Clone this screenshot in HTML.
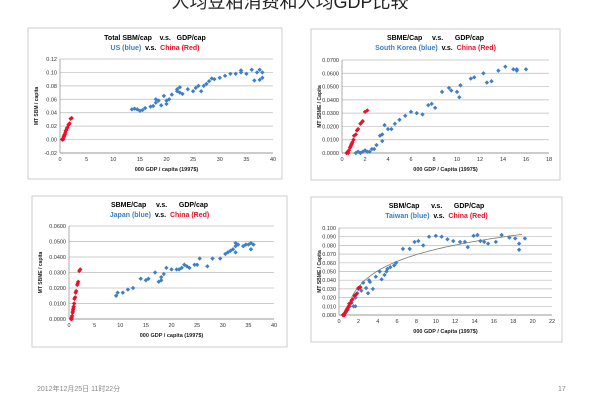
<!DOCTYPE html>
<html><head><meta charset="utf-8"><style>
html,body{margin:0;padding:0;background:#fff;}
body{width:600px;height:400px;overflow:hidden;position:relative;font-family:"Liberation Sans","Noto Sans CJK SC",sans-serif;}
</style></head><body>
<svg id="s" width="600" height="400" xmlns="http://www.w3.org/2000/svg" font-family="Liberation Sans, Noto Sans CJK SC, sans-serif">
<text x="290" y="8" font-size="18" text-anchor="middle" fill="#222">人均豆粕消费和人均GDP比较</text>
<text x="37" y="391" font-size="7" fill="#888">2012年12月25日 11时22分</text>
<text x="558" y="391" font-size="7" fill="#888">17</text>
</svg>
<script>
const NS="http://www.w3.org/2000/svg",S=document.getElementById('s');
function el(t,a,p){const e=document.createElementNS(NS,t);for(const k in a)e.setAttribute(k,a[k]);(p||S).appendChild(e);return e;}
function txt(x,y,s,sz,fill,anch,w,rot){const e=el('text',{x:x,y:y,'font-size':sz,fill:fill||'#000','text-anchor':anch||'middle','font-weight':w||'normal'});e.style.whiteSpace='pre';if(rot)e.setAttribute('transform','rotate(-90 '+x+' '+y+')');e.textContent=s;return e;}
const china=[[0.4,0],[0.5,0.001],[0.55,0],[0.6,0.002],[0.7,0.004],[0.75,0.005],[0.8,0.006],[0.85,0.007],[0.9,0.008],[1,0.01],[1.05,0.013],[1.2,0.014],[1.3,0.017],[1.4,0.018],[1.6,0.022],[1.7,0.023],[1.8,0.024],[2,0.031],[2.2,0.032]];
function chart(c){
 el('rect',{x:c.bx,y:c.by,width:c.bw,height:c.bh,fill:'#fff',stroke:'#ccc','stroke-width':1});
 const X=v=>c.x0+(v-c.xmin)/(c.xmax-c.xmin)*(c.x1-c.x0), Y=v=>c.y0-(v-c.ymin)/(c.ymax-c.ymin)*(c.y0-c.y1);
 for(let v=c.ymin;v<=c.ymax+1e-9;v+=c.ystep){const y=Y(v);el('line',{x1:c.x0,x2:c.x1,y1:y,y2:y,stroke:'#bbb','stroke-width':0.7});txt(c.x0-3,y+2,(Math.abs(v)<1e-9?0:v).toFixed(c.yd),5.5,'#333','end');}
 el('line',{x1:c.x0,x2:c.x0,y1:c.y1,y2:c.y0,stroke:'#888','stroke-width':0.7});
 const ya=Y(c.yaxis||c.ymin);el('line',{x1:c.x0,x2:c.x1,y1:ya,y2:ya,stroke:'#888','stroke-width':0.7});
 for(let v=c.xmin;v<=c.xmax+1e-9;v+=c.xstep){txt(X(v),c.y0+8,String(v),5.5,'#333');}
 txt((c.bx+c.bx+c.bw)/2,c.t1,c.title,7,'#000','middle','bold');
 const t=txt((c.bx+c.bx+c.bw)/2,c.t2,'',7,'#000','middle','bold');
 const a=el('tspan',{fill:'#3a7fc4'},t);a.textContent=c.who+' (blue) ';
 const b=el('tspan',{fill:'#000'},t);b.textContent=' v.s. ';
 const d=el('tspan',{fill:'#e8102a'},t);d.textContent=' China (Red)';
 txt((c.x0+c.x1)/2,c.xl||c.y0+18,c.xlabel,5.5,'#222','middle','bold');
 txt(c.bx+10,(c.y0+c.y1)/2,c.ylabel,5,'#222','middle','bold',true);
 if(c.trend){let p='';for(let v=1.3;v<=19;v+=0.2){p+=(p?'L':'M')+X(v).toFixed(1)+','+Y(0.0133+0.027*Math.log(v)).toFixed(1);}el('path',{d:p,fill:'none',stroke:'#777','stroke-width':0.8});}
 const dia=(px,py,col)=>el('path',{d:`M${px},${py-2.2}L${px+2.2},${py}L${px},${py+2.2}L${px-2.2},${py}Z`,fill:col});
 c.blue.forEach(p=>dia(X(p[0]),Y(p[1]),'#3f7fc6'));
 china.forEach(p=>dia(X(p[0]),Y(p[1]*(c.cs||1)),'#e8102a'));
}
chart({bx:28,by:28,bw:254,bh:151,x0:60,x1:273,y0:153,y1:59,xmin:0,xmax:40,xstep:5,ymin:-0.02,ymax:0.12,ystep:0.02,yd:2,yaxis:0,t1:40,t2:50,title:'Total SBM/cap    v.s.   GDP/cap',who:'US',xlabel:'000 GDP / capita (1997$)',ylabel:'MT SBM / capita',
blue:[[13.5,.045],[14,.046],[14.5,.045],[15,.043],[15.5,.044],[16,.047],[17,.049],[17.5,.05],[18,.055],[18,.06],[18.5,.058],[19,.051],[19.5,.065],[20,.053],[20,.058],[20.5,.06],[21,.067],[22,.072],[22,.075],[22.5,.07],[22.5,.078],[23,.068],[24,.075],[25,.072],[25.5,.077],[26,.08],[26.5,.072],[27,.08],[27.5,.083],[28,.087],[28.5,.091],[29,.09],[30,.092],[31,.095],[32,.098],[33,.098],[34,.103],[34,.1],[35,.098],[36,.104],[36.5,.088],[37,.1],[37.5,.104],[37.5,.089],[38,.092],[38,.1]]});
chart({bx:311,by:29,bw:249,bh:151,x0:342,x1:549,y0:153,y1:60,xmin:0,xmax:18,xstep:2,ymin:0,ymax:0.07,ystep:0.01,yd:4,t1:40,t2:50,title:'SBME/Cap     v.s.      GDP/cap',who:'South Korea',xlabel:'000 GDP / Capita (1997$)',ylabel:'MT SBME / Capita',
blue:[[1.2,0],[1.4,.001],[1.6,0],[1.8,.001],[2,.002],[2.2,.001],[2.4,.001],[2.6,.003],[2.8,.003],[3,.006],[3.3,.013],[3.5,.014],[3.5,.009],[3.7,.021],[4,.018],[4.3,.018],[4.6,.022],[5,.025],[5.5,.028],[6,.031],[6.5,.03],[7,.029],[7.5,.036],[7.8,.037],[8.1,.034],[8.7,.046],[9.3,.049],[9.5,.047],[10,.046],[10.2,.042],[10.3,.051],[11.2,.056],[11.5,.057],[12.3,.06],[12.6,.053],[13,.054],[13.6,.062],[14.2,.065],[14.9,.063],[15.2,.062],[15.2,.063],[16,.063]]});
chart({bx:32,by:196,bw:255,bh:151,x0:69,x1:274,y0:319,y1:226,xmin:0,xmax:40,xstep:5,ymin:0,ymax:0.06,ystep:0.01,yd:4,t1:207,t2:217,title:'SBME/Cap     v.s.      GDP/cap',who:'Japan',xlabel:'000 GDP / capita (1997$)',ylabel:'MT SBME / capita',
blue:[[9.2,.015],[9.5,.017],[10.5,.017],[11.5,.019],[12.5,.02],[14,.026],[15,.025],[15.5,.026],[16.8,.03],[17.5,.024],[18,.027],[18,.025],[18.5,.029],[19,.033],[20,.032],[21,.032],[21.5,.032],[22,.033],[22.5,.035],[23,.034],[23.5,.033],[24.5,.035],[25,.035],[25.5,.039],[27,.034],[28,.039],[29.5,.039],[30.5,.042],[31,.043],[31.5,.044],[32,.045],[32.5,.047],[32.5,.049],[33,.048],[32.5,.043],[34,.047],[34.5,.048],[35,.048],[35.5,.045],[35.5,.049],[36,.048]]});
chart({bx:311,by:197,bw:251,bh:145,x0:339,x1:552,y0:315,y1:228,xmin:0,xmax:22,xstep:2,ymin:0,ymax:0.1,ystep:0.01,yd:3,t1:208,t2:218,title:'SBM/Cap      v.s.      GDP/Cap',who:'Taiwan',xlabel:'000 GDP / Capita (1997$)',ylabel:'MT SBME / Capita',trend:1,
blue:[[0.5,0],[0.7,.003],[0.9,.006],[1.1,.01],[1.3,.014],[1.5,.01],[1.7,.01],[1.7,.02],[1.9,.025],[2,.03],[2.3,.028],[2.5,.037],[2.8,.031],[3,.025],[3.1,.04],[3.2,.038],[3.5,.03],[3.8,.044],[4.2,.05],[4.4,.041],[4.7,.046],[4.9,.05],[5,.053],[5.3,.055],[5.7,.057],[5.9,.06],[6.6,.076],[7.3,.076],[7.8,.084],[8.2,.085],[8.7,.08],[9.3,.09],[10,.091],[10.6,.09],[11.2,.087],[11.8,.085],[12.5,.084],[13,.084],[13.3,.078],[13.9,.091],[14.3,.092],[14.6,.085],[15,.084],[15.4,.082],[16.2,.084],[16.8,.092],[17.6,.089],[18.2,.088],[18.6,.082],[18.6,.075],[19.2,.088]]});
</script>
</body></html>
